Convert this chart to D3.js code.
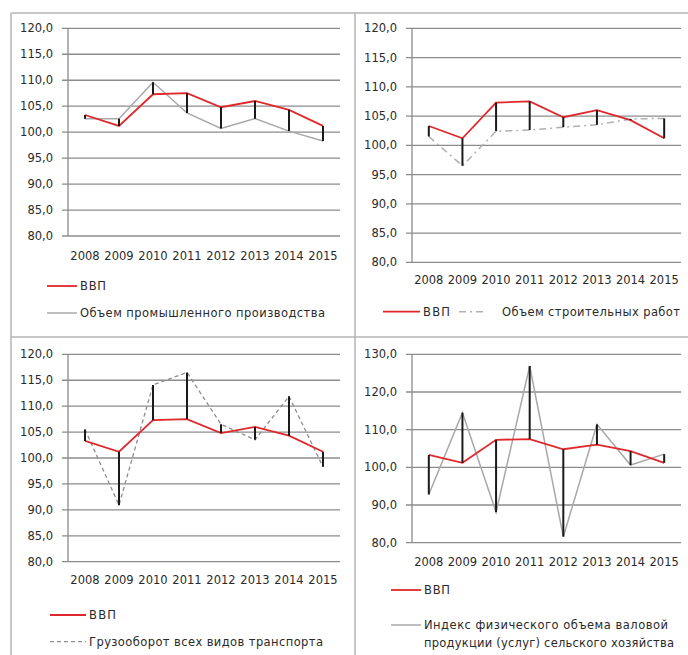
<!DOCTYPE html>
<html>
<head>
<meta charset="utf-8">
<script src="https://cdn.jsdelivr.net/npm/d3@7"></script>
<style>
  body { margin: 0; background: #fff; }
  svg { display: block; }
  text { font-family: "DejaVu Sans", sans-serif; fill: #2a2a2a; }
</style>
</head>
<body>
<svg width="688" height="655"></svg>
<script>
const years = ["2008", "2009", "2010", "2011", "2012", "2013", "2014", "2015"];
const gdp = [103.3, 101.2, 107.3, 107.5, 104.8, 106.0, 104.3, 101.2];
const industry = [102.6, 102.6, 109.6, 103.7, 100.7, 102.6, 100.2, 98.3];
const construction = [101.5, 96.5, 102.4, 102.6, 103.1, 103.5, 104.5, 104.6];
const freight = [105.5, 90.9, 114.1, 116.5, 106.5, 103.5, 111.9, 98.3];
const agriculture = [92.8, 114.5, 88.1, 126.9, 81.6, 111.4, 100.6, 103.5];
const ticksFine = [80, 85, 90, 95, 100, 105, 110, 115, 120];
const ticksWide = [80, 90, 100, 110, 120, 130];

const gdpName = "ВВП";

const svg = d3.select("svg");

// panel frames (picture is cropped on the right and bottom)
const frame = svg.append("g").attr("stroke", "#b4b4b4").attr("stroke-width", 1.5).attr("fill", "none");
frame.append("line").attr("x1", 11).attr("x2", 688).attr("y1", 13).attr("y2", 13);
frame.append("line").attr("x1", 11).attr("x2", 11).attr("y1", 13).attr("y2", 655);
frame.append("line").attr("x1", 355).attr("x2", 355).attr("y1", 13).attr("y2", 655);
frame.append("line").attr("x1", 11).attr("x2", 688).attr("y1", 337).attr("y2", 337);

const styles = {
  gdp: { color: "#e0282c", width: 1.8, dash: null },
  solid: { color: "#a8a8a8", width: 1.5, dash: null },
  dashdot: { color: "#b0b0b0", width: 1.5, dash: "7,4,2,4" },
  dashed: { color: "#8e8e8e", width: 1.3, dash: "4,3" }
};

// legend text widths (tw) follow the reference picture
const panels = [
  {
    other: industry, style: "solid", ticks: ticksFine,
    x0: 68, x1: 340, yTop: 28.3, yBottom: 236, labelY: 256,
    legend: [
      { s: "gdp", text: [gdpName], tw: [26], lx: 47, lw: 30, gap: 3, y: 286 },
      { s: "solid", text: ["Объем промышленного производства"], tw: [245], lx: 47, lw: 30, gap: 3, y: 313 }
    ]
  },
  {
    other: construction, style: "dashdot", ticks: ticksFine,
    x0: 412, x1: 681, yTop: 28.3, yBottom: 262.3, labelY: 280,
    legend: [
      { s: "gdp", text: [gdpName], tw: [27], lx: 383, lw: 37, gap: 3, y: 311.7 },
      { s: "dashdot", text: ["Объем строительных работ"], tw: [178], lx: 459, lw: 26, gap: 17, y: 311.7 }
    ]
  },
  {
    other: freight, style: "dashed", ticks: ticksFine,
    x0: 68, x1: 340, yTop: 354.3, yBottom: 561.7, labelY: 580,
    legend: [
      { s: "gdp", text: [gdpName], tw: [27], lx: 50, lw: 36, gap: 3, y: 615 },
      { s: "dashed", text: ["Грузооборот всех видов транспорта"], tw: [234], lx: 50, lw: 36, gap: 3, y: 641.7 }
    ]
  },
  {
    other: agriculture, style: "solid", ticks: ticksWide,
    x0: 412, x1: 681, yTop: 354.3, yBottom: 542.7, labelY: 562,
    legend: [
      { s: "gdp", text: [gdpName], tw: [26], lx: 391, lw: 30, gap: 3, y: 590 },
      { s: "solid", text: ["Индекс физического объема валовой", "продукции (услуг) сельского хозяйства"], tw: [244, 250], lx: 391, lw: 30, gap: 3, y: 625 }
    ]
  }
];

panels.forEach(p => {
  const g = svg.append("g");
  const x = d3.scaleBand().domain(years).range([p.x0, p.x1]);
  const y = d3.scaleLinear()
    .domain(d3.extent(p.ticks))
    .range([p.yBottom, p.yTop]);

  // gridlines
  g.append("g")
    .selectAll("line")
    .data(p.ticks)
    .join("line")
    .attr("x1", p.x0 - 6)
    .attr("x2", p.x1)
    .attr("y1", d => y(d))
    .attr("y2", d => y(d))
    .attr("stroke", "#8c8c8c")
    .attr("stroke-width", 1.3);

  g.append("line")
    .attr("x1", p.x0).attr("x2", p.x0)
    .attr("y1", p.yTop).attr("y2", p.yBottom)
    .attr("stroke", "#8c8c8c")
    .attr("stroke-width", 1.3);

  // y labels
  g.append("g")
    .selectAll("text")
    .data(p.ticks)
    .join("text")
    .attr("x", p.x0 - 15)
    .attr("y", d => y(d))
    .attr("dy", "0.35em")
    .attr("text-anchor", "end")
    .style("font-size", "11.5px")
    .text(d => d3.format(".1f")(d).replace(".", ","));

  // x labels
  g.append("g")
    .selectAll("text")
    .data(years)
    .join("text")
    .attr("x", d => x(d) + x.bandwidth() / 2)
    .attr("y", p.labelY)
    .attr("dy", "0.35em")
    .attr("text-anchor", "middle")
    .style("font-size", "11.5px")
    .text(d => d);

  const line = d3.line()
    .x((d, i) => x(years[i]) + x.bandwidth() / 2)
    .y(d => y(d));

  const st = styles[p.style];
  g.append("path")
    .datum(p.other)
    .attr("d", line)
    .attr("fill", "none")
    .attr("stroke", st.color)
    .attr("stroke-width", st.width)
    .attr("stroke-dasharray", st.dash);

  g.append("path")
    .datum(gdp)
    .attr("d", line)
    .attr("fill", "none")
    .attr("stroke", styles.gdp.color)
    .attr("stroke-width", styles.gdp.width);

  // high-low lines
  g.append("g")
    .selectAll("line")
    .data(years)
    .join("line")
    .attr("x1", d => x(d) + x.bandwidth() / 2)
    .attr("x2", d => x(d) + x.bandwidth() / 2)
    .attr("y1", (d, i) => y(gdp[i]))
    .attr("y2", (d, i) => y(p.other[i]))
    .attr("stroke", "#1a1a1a")
    .attr("stroke-width", 2);

  // legend
  p.legend.forEach(item => {
    const ls = styles[item.s];
    g.append("line")
      .attr("x1", item.lx).attr("x2", item.lx + item.lw)
      .attr("y1", item.y).attr("y2", item.y)
      .attr("stroke", ls.color)
      .attr("stroke-width", ls.width)
      .attr("stroke-dasharray", ls.dash);
    item.text.forEach((s, k) => {
      g.append("text")
        .attr("x", item.lx + item.lw + item.gap)
        .attr("y", item.y + k * 18)
        .attr("dy", "0.35em")
        .attr("textLength", item.tw[k])
        .attr("lengthAdjust", "spacing")
        .style("font-size", "11.5px")
        .text(s);
    });
  });
});
</script>
</body>
</html>
